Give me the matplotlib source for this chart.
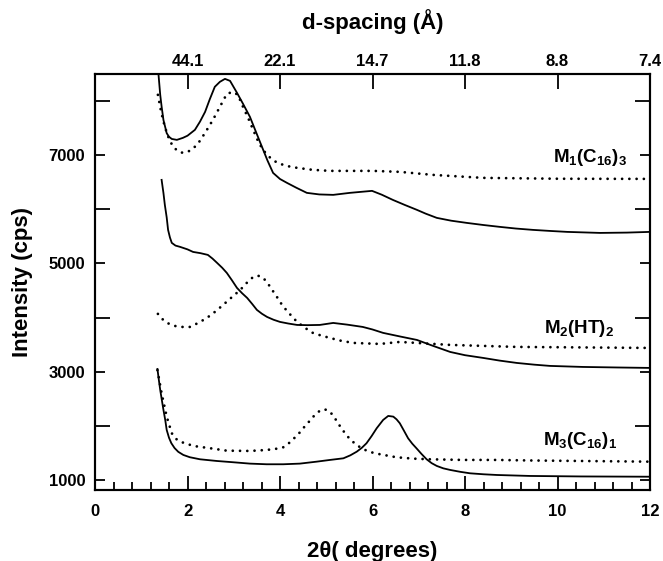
import matplotlib
matplotlib.use("Agg")
import matplotlib.pyplot as plt
from matplotlib.ticker import FixedLocator, MultipleLocator

plt.rcParams["font.family"] = ["Liberation Sans", "DejaVu Sans"]
plt.rcParams["font.weight"] = "bold"
plt.rcParams["axes.labelweight"] = "bold"
plt.rcParams["mathtext.fontset"] = "custom"
plt.rcParams["mathtext.rm"] = "Liberation Sans:bold"
plt.rcParams["mathtext.bf"] = "Liberation Sans:bold"
plt.rcParams["mathtext.it"] = "Liberation Sans:bold"

# ─── DATA ──────────────────────────────────────────────────
# M1(C16)3
m1_solid_x = [1.37, 1.41, 1.44, 1.48, 1.55, 1.60, 1.66, 1.77, 1.90, 2.00, 2.16, 2.27,
              2.38, 2.48, 2.59, 2.70, 2.81, 2.92, 3.07, 3.20, 3.35, 3.48, 3.61, 3.73,
              3.85, 4.00, 4.15, 4.35, 4.58, 4.85, 5.15, 5.51, 5.99, 6.20, 6.44, 6.70,
              6.96, 7.15, 7.39, 7.70, 8.04, 8.40, 8.76, 9.10, 9.47, 9.85, 10.21, 10.92,
              11.5, 12.0]
m1_solid_y = [8520, 8115, 7899, 7650, 7407, 7340, 7300, 7283, 7320, 7360, 7468, 7620,
              7800, 8030, 8263, 8355, 8410, 8373, 8152, 7950, 7708, 7430, 7154, 6900,
              6673, 6560, 6489, 6400, 6304, 6275, 6267, 6304, 6341, 6270, 6174, 6080,
              5990, 5920, 5842, 5790, 5749, 5710, 5675, 5645, 5620, 5600, 5583, 5564,
              5570, 5583]
m1_dot_x = [1.36, 1.43, 1.51, 1.60, 1.69, 1.80, 1.90, 2.05, 2.21, 2.38, 2.55, 2.70,
            2.85, 2.98, 3.09, 3.20, 3.31, 3.42, 3.52, 3.63, 3.78, 3.94, 4.15, 4.37,
            4.70, 5.08, 6.01, 6.59, 7.31, 8.39, 10.0, 12.0]
m1_dot_y = [8115, 7800, 7523, 7300, 7154, 7070, 7043, 7080, 7191, 7413, 7653, 7893,
            8133, 8170, 8115, 7893, 7690, 7468, 7270, 7098, 6960, 6858, 6800, 6766,
            6730, 6710, 6710, 6692, 6636, 6581, 6565, 6562]

# M2(HT)2
m2_solid_x = [1.44, 1.48, 1.51, 1.55, 1.58, 1.62, 1.66, 1.74, 1.84, 2.00, 2.12, 2.28,
              2.44, 2.54, 2.64, 2.75, 2.85, 2.96, 3.07, 3.18, 3.29, 3.40, 3.50, 3.61,
              3.72, 3.86, 4.00, 4.18, 4.37, 4.60, 4.86, 5.15, 5.45, 5.79, 6.00, 6.23,
              6.60, 6.96, 7.30, 7.68, 8.00, 8.39, 8.75, 9.12, 9.50, 9.84, 10.55, 11.3,
              12.0]
m2_solid_y = [6544, 6300, 6082, 5850, 5620, 5480, 5380, 5330, 5306, 5260, 5213, 5190,
              5158, 5090, 5010, 4920, 4825, 4690, 4548, 4450, 4363, 4250, 4142, 4070,
              4012, 3960, 3920, 3890, 3864, 3860, 3864, 3901, 3870, 3827, 3780, 3717,
              3650, 3587, 3480, 3365, 3305, 3255, 3205, 3162, 3130, 3107, 3088, 3078,
              3070]
m2_dot_x = [1.36, 1.46, 1.56, 1.70, 1.84, 2.05, 2.23, 2.42, 2.60, 2.77, 2.95, 3.14,
            3.28, 3.42, 3.52, 3.63, 3.73, 3.83, 3.92, 4.00, 4.08, 4.17, 4.27, 4.37,
            4.54, 4.71, 4.90, 5.08, 5.30, 5.58, 6.16, 6.59, 7.68, 9.12, 12.0]
m2_dot_y = [4068, 3970, 3901, 3850, 3827, 3827, 3900, 3994, 4110, 4234, 4370, 4511,
            4640, 4751, 4775, 4740, 4640, 4511, 4400, 4289, 4195, 4105, 4010, 3920,
            3810, 3717, 3665, 3624, 3575, 3532, 3513, 3550, 3495, 3458, 3439]

# M3(C16)1
m3_solid_x = [1.35, 1.38, 1.41, 1.45, 1.48, 1.52, 1.55, 1.60, 1.65, 1.72, 1.80, 1.91,
              2.05, 2.27, 2.63, 2.99, 3.35, 3.71, 4.07, 4.43, 4.79, 5.08, 5.37, 5.52,
              5.66, 5.77, 5.87, 5.98, 6.09, 6.23, 6.34, 6.45, 6.52, 6.59, 6.68, 6.77,
              6.86, 6.95, 7.06, 7.17, 7.28, 7.39, 7.53, 7.68, 7.90, 8.11, 8.40, 8.69,
              9.41, 10.5, 12.0]
m3_solid_y = [3050, 2850, 2663, 2450, 2294, 2100, 1924, 1780, 1680, 1590, 1520, 1462,
              1420, 1382, 1351, 1327, 1302, 1290, 1290, 1302, 1338, 1370, 1400, 1455,
              1523, 1595, 1678, 1810, 1955, 2109, 2183, 2170, 2120, 2048, 1910, 1770,
              1670, 1586, 1480, 1382, 1310, 1259, 1215, 1185, 1150, 1123, 1105, 1092,
              1074, 1065, 1060]
m3_dot_x = [1.35, 1.44, 1.55, 1.66, 1.75, 1.84, 2.13, 2.49, 2.85, 3.35, 3.71, 3.95,
            4.07, 4.18, 4.29, 4.40, 4.50, 4.61, 4.72, 4.83, 4.94, 5.03, 5.12, 5.21,
            5.30, 5.40, 5.51, 5.65, 5.80, 5.98, 6.16, 6.52, 6.88, 7.24, 7.96, 8.69,
            9.41, 12.0]
m3_dot_y = [3030, 2602, 2170, 1863, 1760, 1708, 1628, 1586, 1541, 1536, 1554, 1580,
            1604, 1670, 1758, 1850, 1955, 2060, 2170, 2260, 2307, 2290, 2220, 2110,
            1990, 1870, 1755, 1650, 1567, 1510, 1475, 1419, 1394, 1382, 1370, 1370,
            1360, 1338]

labels = [r"$\mathbf{M_1(C_{16})_3}$", r"$\mathbf{M_2(HT)_2}$", r"$\mathbf{M_3(C_{16})_1}$"]
label_x = [9.9, 9.71, 9.69]
label_y = [6880, 3717, 1647]

top_tick_pos = [2, 4, 6, 8, 10, 12]
top_tick_labels = ["44.1", "22.1", "14.7", "11.8", "8.8", "7.4"]
# ───────────────────────────────────────────────────────────

fig = plt.figure(figsize=(6.63, 5.61), dpi=100)
ax = fig.add_axes([0.1433, 0.1266, 0.8371, 0.7415])

solid = dict(color="black", linewidth=1.3)
dotted = dict(color="black", linewidth=2.0, linestyle=(0, (0.01, 2.6)),
              dash_capstyle="round")

ax.plot(m1_solid_x, m1_solid_y, **solid)
ax.plot(m1_dot_x, m1_dot_y, **dotted)
ax.plot(m2_solid_x, m2_solid_y, **solid)
ax.plot(m2_dot_x, m2_dot_y, **dotted)
ax.plot(m3_solid_x, m3_solid_y, **solid)
ax.plot(m3_dot_x, m3_dot_y, **dotted)

for txt, x, y in zip(labels, label_x, label_y):
    ax.text(x, y, txt, fontsize=13.5, ha="left", va="baseline")

ax.set_xlim(0, 12)
ax.set_ylim(815, 8500)

ax.set_xticks(range(0, 13, 2))
ax.xaxis.set_minor_locator(MultipleLocator(0.4))
ax.set_yticks([1000, 3000, 5000, 7000])
ax.yaxis.set_minor_locator(FixedLocator([2000, 4000, 6000, 8000]))

ax.tick_params(axis="x", which="both", direction="in", top=False, width=1.3,
               labelsize=12, pad=10)
ax.tick_params(axis="x", which="major", length=10)
ax.tick_params(axis="x", which="minor", length=6)
ax.tick_params(axis="y", which="both", direction="in", left=True, right=True,
               width=1.3, labelsize=12, pad=7)
ax.tick_params(axis="y", which="major", length=7.2)
ax.tick_params(axis="y", which="minor", length=10.8)

for s in ax.spines.values():
    s.set_linewidth(1.5)

ax.set_xlabel("2θ( degrees)", fontsize=16, fontweight="bold", labelpad=16)
ax.set_ylabel("Intensity (cps)", fontsize=16, fontweight="bold", labelpad=11)

ax2 = ax.twiny()
ax2.set_xlim(0, 12)
ax2.set_xticks(top_tick_pos)
ax2.set_xticklabels(top_tick_labels)
ax2.tick_params(axis="x", direction="in", length=10.8, width=1.3, labelsize=12, pad=3.5)
ax2.set_xlabel("d-spacing (Å)", fontsize=16, fontweight="bold", labelpad=18)
for s in ax2.spines.values():
    s.set_linewidth(1.5)

fig.savefig("out.png", dpi=100)
